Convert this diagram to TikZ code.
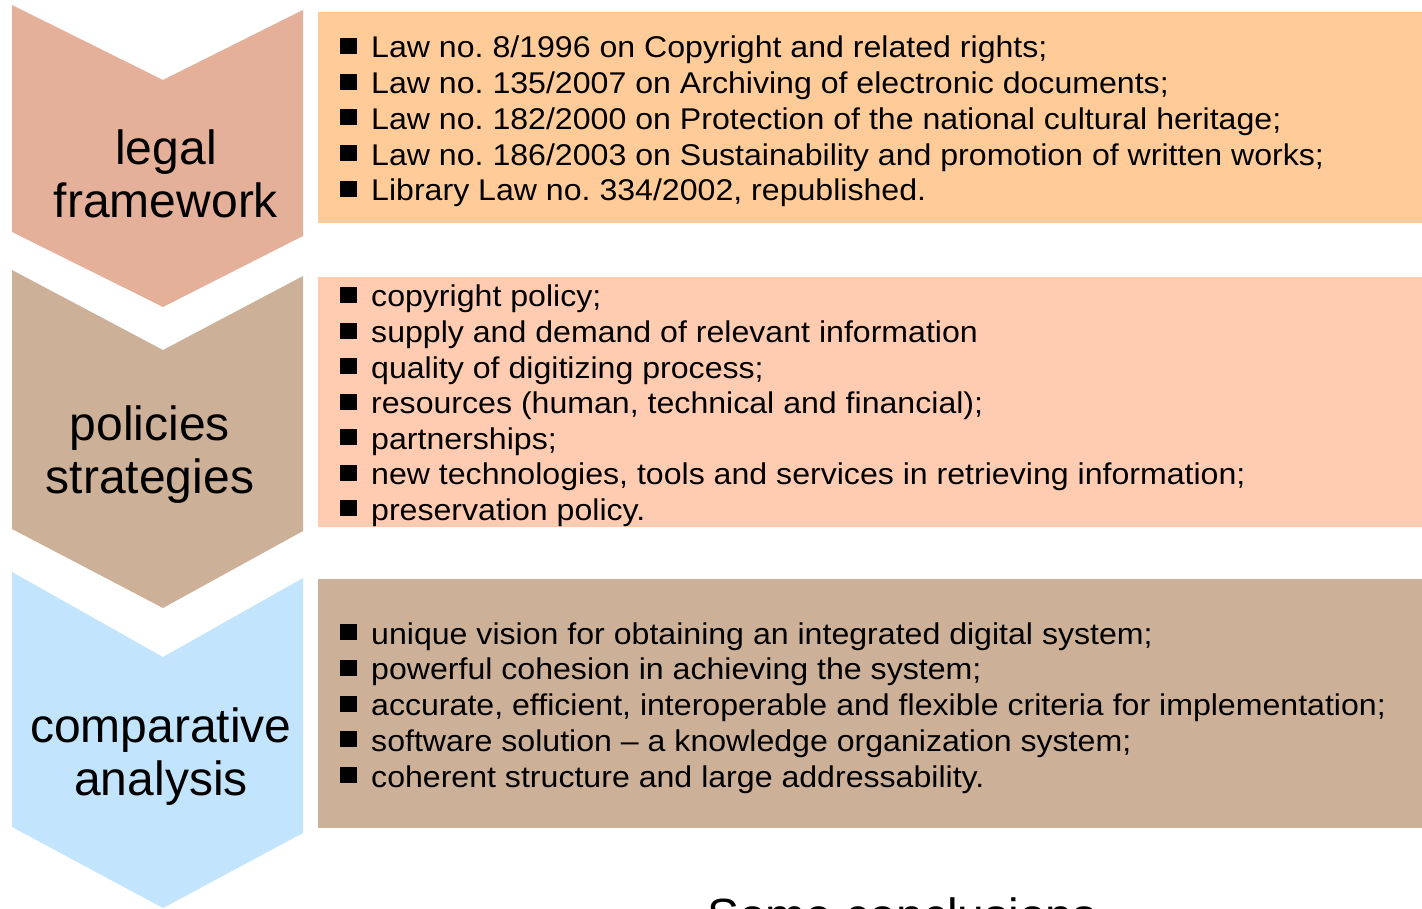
\documentclass[tikz,border=0pt]{standalone}
\usepackage{fontspec}
\setmainfont{Liberation Sans}
\newfontfamily\listfont[FakeStretch=1.07,Ligatures=TeX]{Liberation Sans}
\frenchspacing
\definecolor{chevA}{HTML}{E5B09A}
\definecolor{chevB}{HTML}{CDB098}
\definecolor{chevC}{HTML}{C2E4FC}
\definecolor{boxA}{HTML}{FFCB99}
\definecolor{boxB}{HTML}{FFCCB2}
\definecolor{boxC}{HTML}{CDB098}
\newcommand\sqbullet{\raisebox{4pt}{\rule{17pt}{16pt}}}
\tikzset{
  listline/.style={anchor=base west, inner sep=0pt, font=\listfont\fontsize{30}{36}\selectfont},
  catline/.style={anchor=base, inner sep=0pt, font=\fontsize{48}{53}\selectfont},
  bigline/.style={anchor=base west, inner sep=0pt, font=\fontsize{48}{53}\selectfont},
}
\begin{document}
\begin{tikzpicture}[x=1pt,y=-1pt]
\useasboundingbox (0,0) rectangle (1422,909);
\clip (0,0) rectangle (1422,909);
% chevrons
\fill[chevA] (12,5) -- (163,80) -- (303,10) -- (303,236) -- (163,307) -- (12,232) -- cycle;
\fill[chevB] (12,270) -- (163,350) -- (303,276) -- (303,531) -- (163,608) -- (12,529) -- cycle;
\fill[chevC] (12,572) -- (163,657) -- (303,578) -- (303,833) -- (163,908) -- (12,827) -- cycle;
% boxes
\fill[boxA] (318,12) rectangle (1422,223);
\fill[boxB] (318,277) rectangle (1422,527);
\fill[boxC] (318,579) rectangle (1422,828);
% category labels
\node[catline] (c1a) at (166,165) {legal};
\node[catline] (c1b) at (166,218) {framework};
\node[catline] (c2a) at (150,440) {policies};
\node[catline] (c2b) at (150,493) {strategies};
\node[catline] (c3a) at (161,742) {comparative};
\node[catline] (c3b) at (161,795) {analysis};
% list 1
\foreach \t [count=\i from 0] in {
  {Law no. 8/1996 on Copyright and related rights;},
  {Law no. 135/2007 on Archiving of electronic documents;},
  {Law no. 182/2000 on Protection of the national cultural heritage;},
  {Law no. 186/2003 on Sustainability and promotion of written works;},
  {Library Law no. 334/2002, republished.}}
  \node[listline] (la\i) at (340,58+35.7*\i) {\makebox[31pt][l]{\sqbullet}\t};
% list 2
\foreach \t [count=\i from 0] in {
  {copyright policy;},
  {supply and demand of relevant information},
  {quality of digitizing process;},
  {resources (human, technical and financial);},
  {partnerships;},
  {new technologies, tools and services in retrieving information;},
  {preservation policy.}}
  \node[listline] (lb\i) at (340,307+35.5*\i) {\makebox[31pt][l]{\sqbullet}\t};
% list 3
\foreach \t [count=\i from 0] in {
  {unique vision for obtaining an integrated digital system;},
  {powerful cohesion in achieving the system;},
  {accurate, efficient, interoperable and flexible criteria for implementation;},
  {software solution – a knowledge organization system;},
  {coherent structure and large addressability.}}
  \node[listline] (lc\i) at (340,644+35.75*\i) {\makebox[31pt][l]{\sqbullet}\t};
% cut-off heading (cut by the lower edge, as in the reference)
\node[bigline] (concl) at (707,932) {Some conclusions};
\end{tikzpicture}
\end{document}
